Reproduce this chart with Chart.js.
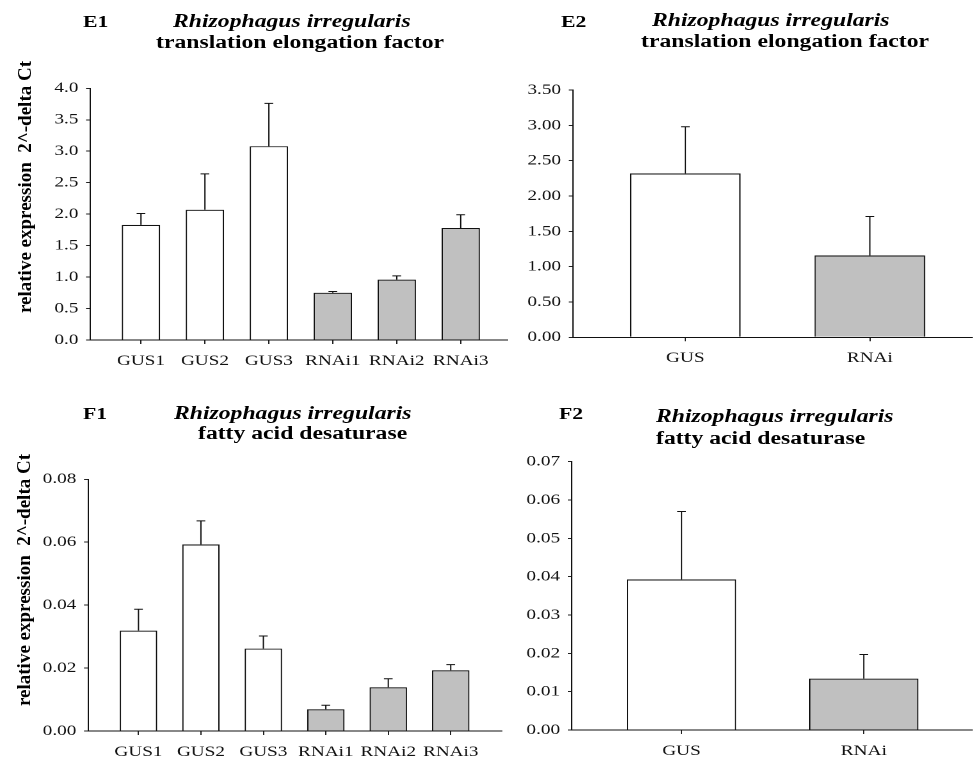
<!DOCTYPE html>
<html><head><meta charset="utf-8">
<script src="https://cdn.jsdelivr.net/npm/chart.js@4"></script>
<style>
html,body{margin:0;padding:0;background:#fff;overflow:hidden;width:973px;height:765px;}
#stage{position:absolute;left:0;top:0;width:760.16px;height:765px;transform:scaleX(1.28);transform-origin:0 0;}
canvas{position:absolute;}
.t{position:absolute;white-space:pre;font-family:"Liberation Serif","Times New Roman",serif;font-weight:bold;color:#000;line-height:1;}
.i{font-style:italic;}
.yl{position:absolute;white-space:pre;font-family:"Liberation Serif","Times New Roman",serif;font-weight:bold;font-size:19px;line-height:1;color:#000;transform:translate(-50%,-50%) rotate(-90deg) scaleY(0.78);}
</style></head>
<body>
<div id="stage">
  <canvas id="cE1"></canvas>
  <canvas id="cE2"></canvas>
  <canvas id="cF1"></canvas>
  <canvas id="cF2"></canvas>

  <div class="t" style="font-size:17px;left:64.8px;top:13px;">E1</div>
  <div class="t i" style="font-size:18.5px;left:135.2px;top:11.5px;">Rhizophagus irregularis</div>
  <div class="t" style="font-size:18.5px;left:121.9px;top:33px;">translation elongation factor</div>

  <div class="t" style="font-size:17px;left:438.3px;top:12.5px;">E2</div>
  <div class="t i" style="font-size:18.5px;left:509.4px;top:11px;">Rhizophagus irregularis</div>
  <div class="t" style="font-size:18.5px;left:500.8px;top:32px;">translation elongation factor</div>

  <div class="t" style="font-size:17px;left:64.8px;top:404.8px;">F1</div>
  <div class="t i" style="font-size:18.5px;left:135.9px;top:403.5px;">Rhizophagus irregularis</div>
  <div class="t" style="font-size:18.5px;left:154.7px;top:424px;">fatty acid desaturase</div>

  <div class="t" style="font-size:17px;left:436.7px;top:404.8px;">F2</div>
  <div class="t i" style="font-size:18.5px;left:512.5px;top:406.5px;">Rhizophagus irregularis</div>
  <div class="t" style="font-size:18.5px;left:512.5px;top:428.5px;">fatty acid desaturase</div>

  <div class="yl" style="left:18.75px;top:187px;">relative expression  2^-delta Ct</div>
  <div class="yl" style="left:18px;top:580px;">relative expression  2^-delta Ct</div>
</div>
<script>
// ---------- data ----------
const catsE1 = ['GUS1','GUS2','GUS3','RNAi1','RNAi2','RNAi3'];
const meanE1 = [1.83, 2.07, 3.08, 0.75, 0.96, 1.78];
const seE1   = [0.18, 0.57, 0.68, 0.02, 0.06, 0.21];
const ticksE1 = [0.0, 0.5, 1.0, 1.5, 2.0, 2.5, 3.0, 3.5, 4.0];

const catsE2 = ['GUS','RNAi'];
const meanE2 = [2.32, 1.16];
const seE2   = [0.66, 0.55];
const ticksE2 = [0.00, 0.50, 1.00, 1.50, 2.00, 2.50, 3.00, 3.50];

const catsF1 = ['GUS1','GUS2','GUS3','RNAi1','RNAi2','RNAi3'];
const meanF1 = [0.0319, 0.0593, 0.0262, 0.0069, 0.0139, 0.0193];
const seF1   = [0.0068, 0.0075, 0.0040, 0.0013, 0.0027, 0.0018];
const ticksF1 = [0.00, 0.02, 0.04, 0.06, 0.08];

const catsF2 = ['GUS','RNAi'];
const meanF2 = [0.0393, 0.0134];
const seF2   = [0.0177, 0.0063];
const ticksF2 = [0.00, 0.01, 0.02, 0.03, 0.04, 0.05, 0.06, 0.07];

// ---------- drawing ----------
const S = 1.28; // horizontal stretch of the stage
const FONT = '"Liberation Serif","Times New Roman",serif';
const GUS_COLOR = '#ffffff', RNAI_COLOR = '#c0c0c0';

const errPlugin = {
  id: 'errbars',
  afterDatasetsDraw(chart) {
    const ctx = chart.ctx, ds = chart.data.datasets[0];
    const meta = chart.getDatasetMeta(0), ys = chart.scales.y;
    ctx.save();
    ctx.strokeStyle = '#111';
    ctx.lineWidth = 1;
    meta.data.forEach((bar, i) => {
      const top = ys.getPixelForValue(ds.data[i].y + ds.errors[i]);
      ctx.beginPath();
      ctx.moveTo(bar.x, bar.y);
      ctx.lineTo(bar.x, top);
      ctx.moveTo(bar.x - 3.4, top);
      ctx.lineTo(bar.x + 3.4, top);
      ctx.stroke();
    });
    ctx.restore();
  }
};

function makeChart(id, box, cats, means, errs, yTicks, dec, xMin, xMax, yAxisW, pad) {
  const cv = document.getElementById(id);
  cv.style.left = box.l + 'px'; cv.style.top = box.t + 'px';
  cv.width = box.w; cv.height = box.h;
  cv.style.width = box.w + 'px'; cv.style.height = box.h + 'px';
  const colors = cats.map(c => c.startsWith('GUS') ? GUS_COLOR : RNAI_COLOR);
  return new Chart(cv, {
    type: 'bar',
    data: {
      datasets: [{
        data: means.map((v, i) => ({x: i, y: v})),
        errors: errs,
        backgroundColor: colors,
        borderColor: '#111',
        borderWidth: 1.1,
        borderSkipped: 'bottom',
        categoryPercentage: 1,
        barPercentage: 0.6
      }]
    },
    options: {
      responsive: false,
      maintainAspectRatio: false,
      devicePixelRatio: 2,
      animation: false,
      layout: {padding: pad},
      plugins: {legend: {display: false}, tooltip: {enabled: false}},
      scales: {
        x: {
          type: 'linear', min: xMin, max: xMax, offset: false,
          afterBuildTicks: s => { s.ticks = cats.map((c, i) => ({value: i})); },
          afterFit: s => { s.height = 30; },
          grid: {display: true, drawOnChartArea: false, drawTicks: true, tickLength: 4, color: '#222', offset: false},
          border: {display: true, color: '#111', width: 1},
          ticks: {font: {family: FONT, size: 15}, color: '#111', padding: 8, maxRotation: 0, autoSkip: false,
                  callback: (v, i) => cats[i]}
        },
        y: {
          type: 'linear', min: 0, max: yTicks[yTicks.length - 1],
          afterBuildTicks: s => { s.ticks = yTicks.map(v => ({value: v})); },
          afterFit: s => { s.width = yAxisW; },
          grid: {display: true, drawOnChartArea: false, drawTicks: true, tickLength: 4 / S, color: '#222'},
          border: {display: true, color: '#111', width: 1},
          ticks: {font: {family: FONT, size: 15}, color: '#111', padding: 6, autoSkip: false,
                  callback: v => Number(v).toFixed(dec)}
        }
      }
    },
    plugins: [errPlugin]
  });
}

// page-pixel layout converted to stage coordinates (x / S)
makeChart('cE1', {l: 0, t: 50, w: 520 / S, h: 320}, catsE1, meanE1, seE1, ticksE1, 1,
  (90 - 141) / 64, (508 - 141) / 64, 90 / S,
  {left: 0, right: (520 - 508) / S, top: 88.3 - 50, bottom: 0});

makeChart('cE2', {l: 520 / S, t: 50, w: 453 / S, h: 320}, catsE2, meanE2, seE2, ticksE2, 2,
  (573 - 685.5) / 184.5, (973 - 685.5) / 184.5, (573 - 520) / S,
  {left: 0, right: 0, top: 90 - 50, bottom: 320 - (337.3 - 50) - 30});

makeChart('cF1', {l: 0, t: 440, w: 520 / S, h: 325}, catsF1, meanF1, seF1, ticksF1, 2,
  (88 - 138.5) / 62.5, (502 - 138.5) / 62.5, 88 / S,
  {left: 0, right: (520 - 502) / S, top: 479.3 - 440, bottom: 325 - (731 - 440) - 30});

makeChart('cF2', {l: 520 / S, t: 440, w: 453 / S, h: 325}, catsF2, meanF2, seF2, ticksF2, 2,
  (572 - 681.7) / 182.3, (973 - 681.7) / 182.3, (572 - 520) / S,
  {left: 0, right: 0, top: 461.7 - 440, bottom: 325 - (730 - 440) - 30});
</script>
</body></html>
